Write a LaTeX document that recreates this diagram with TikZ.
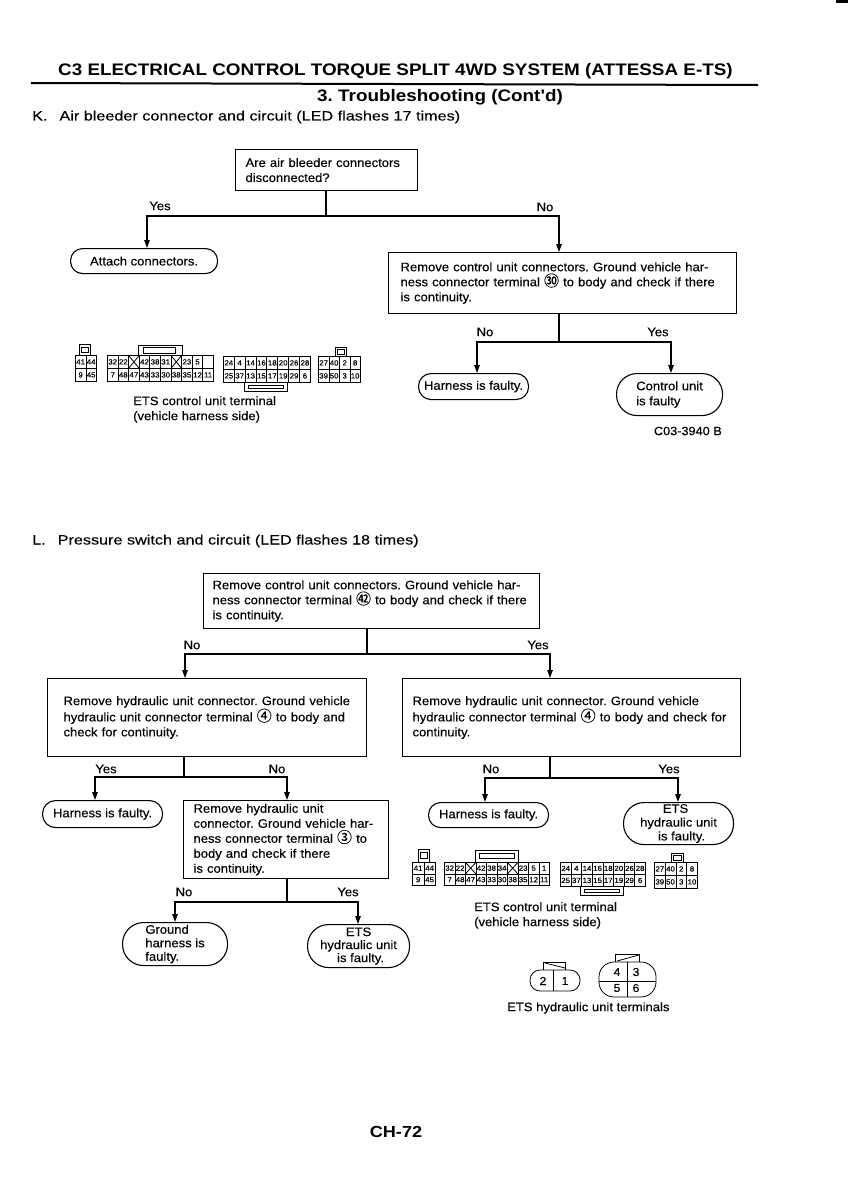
\documentclass[tikz,border=0pt]{standalone}
\usepackage{fontspec}
\setmainfont[FakeBold=0.25,FakeStretch=1.06]{Liberation Sans}
\newfontfamily\boldf[FakeStretch=1.13]{Liberation Sans Bold}
\newfontfamily\headf[FakeBold=0.1,FakeStretch=1.2]{Liberation Sans}
\newfontfamily\cjk[FakeBold=0.4]{Noto Sans CJK SC}
\usetikzlibrary{arrows.meta}
\AtBeginDocument{\frenchspacing}
\newcommand\cnum[1]{{\cjk\fontsize{15}{15}\selectfont #1}}
\newcommand\termrow[6]{%
  \foreach \t [count=\i from 0] in {#6} {
    \node[cellbox, minimum width=#4pt, minimum height=#5pt, anchor=north west] (#1-\i) at ({#2+\i*#4},#3) {\t};
  }}
\newcommand\crossout[1]{\draw[thin line] (#1.north west) -- (#1.south east) (#1.north east) -- (#1.south west);}
\tikzset{
  x=1pt,y=-1pt,
  body/.style={font=\fontsize{12.3}{15}\selectfont},
  heavy line/.style={line width=1.2pt},
  thin line/.style={line width=0.8pt},
  qbox/.style n args={3}{draw,line width=1.1pt,anchor=north west,body,align=left,inner ysep=0pt,inner xsep=#3 pt,
     minimum width=#1 pt,minimum height=#2 pt,text width={(#1-2*#3)*1pt}},
  rbox/.style n args={2}{draw,line width=1.1pt,anchor=north west,body,inner sep=0pt,rounded corners={(#2/2-0.5)*1pt},
     minimum width=#1 pt,minimum height=#2 pt},
  ans/.style={body,inner sep=0pt},
  txt/.style={body,anchor=west,inner sep=0pt,align=left},
  cellbox/.style={draw,thin line,inner sep=0pt,font=\fontsize{7.4}{8}\selectfont},
  tabbox/.style={draw,thin line},
  tlabel/.style={inner sep=0pt,font=\fontsize{11.5}{12}\selectfont},
  conn/.style={heavy line},
  arr/.style={heavy line,-{Triangle[length=8pt,width=5.5pt]}},
}
\begin{document}
\begin{tikzpicture}
\useasboundingbox (0,0) rectangle (848,1200);
\fill[white] (0,0) rectangle (848,1200);
\fill[black] (836,0) rectangle (848,3);

% heading
\node[anchor=west,inner sep=0pt,font=\boldf\fontsize{16.7}{18}\selectfont] (title) at (58,71) {C3 ELECTRICAL CONTROL TORQUE SPLIT 4WD SYSTEM (ATTESSA E-TS)};
\coordinate (ruleL) at (31,83); \coordinate (ruleR) at (758,85);
\draw[line width=2pt] (ruleL) -- (ruleR);
\node[inner sep=0pt,font=\boldf\fontsize{16.7}{18}\selectfont] (subtitle) at (440,97) {3. Troubleshooting (Cont'd)};
\node[txt,font=\headf\fontsize{13.5}{15}\selectfont] (headK) at (32,117) {K.\hspace{12pt}Air bleeder connector and circuit (LED flashes 17 times)};

% section K
\node[qbox={182}{41}{10}] (q1) at (235,149) {\mbox{Are air bleeder connectors}\\\mbox{disconnected?}};
\node[rbox={147}{25}] (attach) at (70,248) {Attach connectors.};
\node[qbox={348}{61}{12}] (q2) at (388,252) {\mbox{Remove control unit connectors. Ground vehicle har-}\\\mbox{ness connector terminal \cnum{㉚} to body and check if there}\\\mbox{is continuity.}};
\node[rbox={110}{26}] (hk) at (418,373) {Harness is faulty.};
\node[rbox={106}{42},align=left] (cu) at (616,373) {Control unit\\is faulty};

\coordinate (j1) at (326,216); \coordinate (j1L) at (147,216); \coordinate (j1R) at (559,216);
\draw[conn] (q1.south -| j1) -- (j1);
\draw[arr] (j1) -- (j1L) -- (j1L |- attach.north);
\draw[arr] (j1) -- (j1R) -- (j1R |- q2.north);
\node[ans] (y1) at (160,206) {Yes};
\node[ans] (n1) at (545,207) {No};

\coordinate (j2) at (559,342); \coordinate (j2L) at (477,342); \coordinate (j2R) at (671,342);
\draw[conn] (j2 |- q2.south) -- (j2);
\draw[arr] (j2) -- (j2L) -- (j2L |- hk.north);
\draw[arr] (j2) -- (j2R) -- (j2R |- cu.north);
\node[ans] (n2) at (485,332) {No};
\node[ans] (y2) at (658,332) {Yes};
\node[anchor=east,inner sep=0pt,font=\fontsize{12}{12}\selectfont] (codeK) at (722,431) {C03-3940 B};

% K terminal blocks
\termrow{ka}{75}{355}{10.5}{13}{41,44}
\termrow{kb}{75}{368}{10.5}{13}{9,45}
\draw[tabbox] (79,344) rectangle (90,355); \draw[tabbox] (81,347) rectangle (88,352);
\termrow{kc}{107}{355}{10.6}{13}{32,22,\relax,42,38,31,\relax,23,5,\relax}
\termrow{kd}{107}{368}{10.6}{13}{7,48,47,43,33,30,38,35,12,11}
\crossout{kc-2}\crossout{kc-6}
\draw[tabbox] (138,355) -- (138,345) -- (182,345) -- (182,355); \draw[tabbox] (143,347) rectangle (175,353);
\termrow{ke}{223}{356}{10.87}{13}{24,4,14,16,18,20,26,28}
\termrow{kf}{223}{369}{10.87}{13}{25,37,13,15,17,19,29,6}
\draw[tabbox] (244,382) -- (244,391) -- (287,391) -- (287,382); \draw[tabbox] (248,385) rectangle (283,388);
\termrow{kg}{318}{356}{10.5}{13}{27,40,2,8}
\termrow{kh}{318}{369}{10.5}{13}{39,50,3,10}
\draw[tabbox] (335,347) rectangle (346,356); \draw[tabbox] (337,349) rectangle (344,354);
\node[txt,anchor=north west] (capK) at (133,396) {ETS control unit terminal\\(vehicle harness side)};

% section L
\node[txt,font=\headf\fontsize{13.5}{15}\selectfont] (headL) at (32,541) {L.\hspace{12pt}Pressure switch and circuit (LED flashes 18 times)};
\node[qbox={336}{55}{9}] (q3) at (203,573) {\mbox{Remove control unit connectors. Ground vehicle har-}\\\mbox{ness connector terminal \cnum{㊷} to body and check if there}\\\mbox{is continuity.}};
\node[qbox={319}{78}{16}] (q4) at (47,678) {\mbox{Remove hydraulic unit connector. Ground vehicle}\\\mbox{hydraulic unit connector terminal \cnum{④} to body and}\\\mbox{check for continuity.}};
\node[qbox={338}{78}{10}] (q5) at (402,678) {\mbox{Remove hydraulic unit connector. Ground vehicle}\\\mbox{hydraulic connector terminal \cnum{④} to body and check for}\\\mbox{continuity.}};
\node[rbox={120}{27}] (hl1) at (42,800) {Harness is faulty.};
\node[qbox={205}{78}{10}] (q6) at (183,800) {\mbox{Remove hydraulic unit}\\\mbox{connector. Ground vehicle har-}\\\mbox{ness connector terminal \cnum{③} to}\\\mbox{body and check if there}\\\mbox{is continuity.}};
\node[rbox={120}{25}] (hl2) at (428,802) {Harness is faulty.};
\node[rbox={110}{42},align=center,font=\fontsize{12.3}{13.8}\selectfont] (eu1) at (623,802) {ETS\hspace*{6pt}\\hydraulic unit\\\hspace*{6pt}is faulty.};
\node[rbox={105}{43},align=left,font=\fontsize{12.3}{13.5}\selectfont] (gh) at (122,922) {Ground\\harness is\\faulty.};
\node[rbox={102}{43},align=center,font=\fontsize{12.3}{13}\selectfont] (eu2) at (307,924) {ETS\\hydraulic unit\\\hspace*{4pt}is faulty.};

\coordinate (j3) at (367,654); \coordinate (j3L) at (185,654); \coordinate (j3R) at (550,654);
\draw[conn] (j3 |- q3.south) -- (j3);
\draw[arr] (j3) -- (j3L) -- (j3L |- q4.north);
\draw[arr] (j3) -- (j3R) -- (j3R |- q5.north);
\node[ans] (n3) at (192,645) {No};
\node[ans] (y3) at (538,645) {Yes};

\coordinate (j4) at (184,777); \coordinate (j4L) at (95,777); \coordinate (j4R) at (287,777);
\draw[conn] (j4 |- q4.south) -- (j4);
\draw[arr] (j4) -- (j4L) -- (j4L |- hl1.north);
\draw[arr] (j4) -- (j4R) -- (j4R |- q6.north);
\node[ans] (y4) at (106,769) {Yes};
\node[ans] (n4) at (277,769) {No};

\coordinate (j5) at (550,778); \coordinate (j5L) at (485,778); \coordinate (j5R) at (678,778);
\draw[conn] (j5 |- q5.south) -- (j5);
\draw[arr] (j5) -- (j5L) -- (j5L |- hl2.north);
\draw[arr] (j5) -- (j5R) -- (j5R |- eu1.north);
\node[ans] (n5) at (491,769) {No};
\node[ans] (y5) at (669,769) {Yes};

\coordinate (j6) at (287,902); \coordinate (j6L) at (175,902); \coordinate (j6R) at (358,902);
\draw[conn] (j6 |- q6.south) -- (j6);
\draw[arr] (j6) -- (j6L) -- (j6L |- gh.north);
\draw[arr] (j6) -- (j6R) -- (j6R |- eu2.north);
\node[ans] (n6) at (184,892) {No};
\node[ans] (y6) at (348,892) {Yes};

% L terminal blocks
\termrow{la}{412}{862}{11.5}{11.5}{41,44}
\termrow{lb}{412}{873.5}{11.5}{11.5}{9,45}
\draw[tabbox] (418,849) rectangle (429,862); \draw[tabbox] (420,852) rectangle (427,858);
\termrow{lc}{444}{862}{10.5}{11.5}{32,22,\relax,42,38,34,\relax,23,5,1}
\termrow{ld}{444}{873.5}{10.5}{11.5}{7,48,47,43,33,30,38,35,12,11}
\crossout{lc-2}\crossout{lc-6}
\draw[tabbox] (475,862) -- (475,850) -- (518,850) -- (518,862); \draw[tabbox] (479,853) rectangle (514,858);
\termrow{le}{560}{862}{10.63}{12}{24,4,14,16,18,20,26,28}
\termrow{lf}{560}{874}{10.63}{12}{25,37,13,15,17,19,29,6}
\draw[tabbox] (580,886) -- (580,895) -- (623,895) -- (623,886); \draw[tabbox] (584,889) rectangle (619,892);
\termrow{lg}{654}{862}{10.75}{13}{27,40,2,8}
\termrow{lh}{654}{875}{10.75}{13}{39,50,3,10}
\draw[tabbox] (671,853) rectangle (683,862); \draw[tabbox] (673,855) rectangle (681,860);
\node[txt,anchor=north west] (capL) at (474,902) {ETS control unit terminal\\(vehicle harness side)};

% hydraulic unit terminals
\draw[thin line,rounded corners=10pt] (530,970) rectangle (580,991);
\draw[thin line] (553,970) -- (553,991);
\draw[thin line] (543,970) -- (543,962) -- (565,962) -- (565,970);
\draw[thin line] (545,963) -- (565,968);
\node[tlabel] (t2) at (543,981) {2};
\node[tlabel] (t1) at (565,981) {1};
\draw[thin line,rounded corners=15pt] (599,962) rectangle (656,997);
\draw[thin line] (599,981) -- (656,981) (627,962) -- (627,997);
\draw[thin line] (615,962) -- (615,954) -- (639,954) -- (639,962);
\draw[thin line] (617,961) -- (639,955);
\node[tlabel] (t4) at (617,972) {4};
\node[tlabel] (t3) at (636,972) {3};
\node[tlabel] (t5) at (617,988) {5};
\node[tlabel] (t6) at (636,988) {6};
\node[txt,anchor=west] (capH) at (507,1008) {ETS hydraulic unit terminals};

\node[inner sep=0pt,font=\boldf\fontsize{16}{16}\selectfont] (page) at (396,1132) {CH-72};
\end{tikzpicture}
\end{document}
